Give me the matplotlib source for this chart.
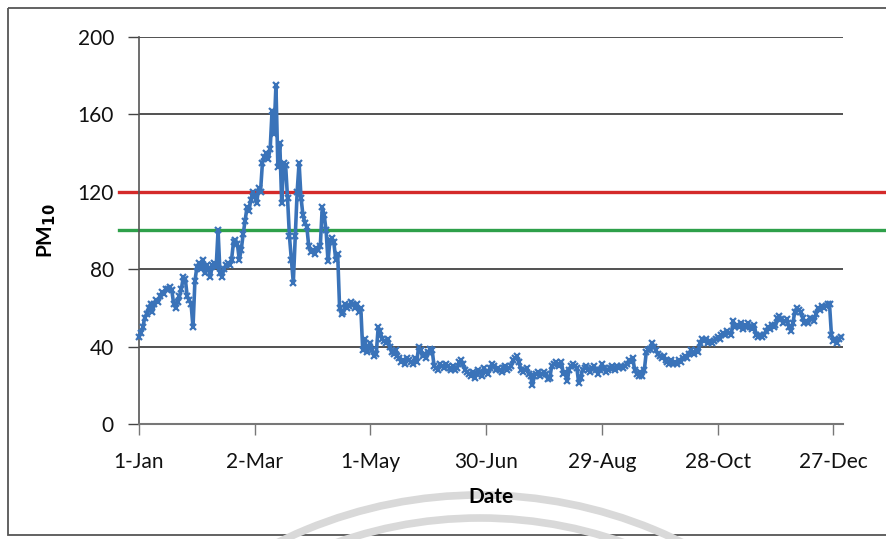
import matplotlib
matplotlib.use("Agg")
import matplotlib.pyplot as plt
from matplotlib.patches import Rectangle, Arc

# Daily PM10 values (1-Jan .. 31-Dec)
pm10 = [
    45, 47, 50, 55, 57, 60, 62, 58, 62, 64,
    63, 66, 68, 67, 70, 70, 71, 69, 62, 60,
    63, 66, 70, 76, 75, 66, 64, 62, 50, 74,
    81, 83, 80, 85, 78, 82, 80, 76, 82, 83,
    81, 100, 78, 76, 80, 82, 83, 82, 85, 94,
    95, 93, 85, 90, 98, 105, 112, 110, 116, 120,
    118, 114, 122, 120, 135, 138, 140, 137, 142, 162,
    150, 175, 133, 145, 114, 135, 134, 117, 97, 85,
    73, 97, 120, 135, 117, 108, 104, 102, 92, 89,
    90, 88, 91, 90, 92, 112, 108, 100, 84, 95,
    96, 94, 85, 88, 60, 57, 58, 62, 60, 61,
    63, 62, 60, 62, 58, 60, 38, 44, 37, 40,
    42, 38, 35, 36, 50, 48, 44, 43, 42, 44,
    40, 37, 36, 38, 35, 34, 32, 33, 31, 34,
    33, 32, 31, 34, 32, 40, 38, 35, 36, 34,
    37, 39, 38, 30, 29, 28, 31, 30, 29, 31,
    30, 29, 28, 30, 28, 29, 32, 33, 31, 28,
    27, 26, 25, 27, 24, 26, 28, 27, 25, 29,
    27, 26, 29, 31, 30, 28, 29, 28, 27, 29,
    30, 28, 29, 30, 33, 34, 35, 32, 28, 27,
    28, 29, 26, 25, 20, 25, 26, 27, 25, 26,
    27, 26, 23, 24, 30, 31, 32, 31, 30, 32,
    26, 27, 22, 28, 30, 31, 30, 29, 21, 24,
    28, 29, 30, 28, 27, 29, 30, 28, 26, 28,
    31, 29, 27, 28, 29, 30, 29, 28, 30, 29,
    30, 29, 30, 31, 33, 32, 34, 28, 26, 25,
    27, 25, 28, 37, 38, 39, 42, 40, 38, 36,
    35, 34, 35, 33, 32, 31, 33, 31, 32, 31,
    33, 32, 34, 35, 34, 36, 38, 37, 36, 38,
    37, 42, 44, 43, 44, 42, 43, 42, 43, 44,
    45, 44, 46, 47, 46, 48, 47, 46, 53, 50,
    51, 50, 52, 49, 51, 50, 52, 50, 49, 51,
    46, 45, 46, 45, 46, 48, 50, 49, 51, 50,
    51, 55, 56, 54, 52, 53, 54, 50, 48, 52,
    58, 60, 59, 58, 55, 52, 53, 52, 55, 54,
    53, 57, 60, 59, 61, 60, 61, 62, 62, 46,
    43, 44, 42, 44, 45,
]
days = list(range(len(pm10)))

tick_days = [0, 60, 120, 180, 240, 300, 360]
tick_labels = ["1-Jan", "2-Mar", "1-May", "30-Jun", "29-Aug", "28-Oct", "27-Dec"]
y_ticks = [0, 40, 80, 120, 160, 200]

limit_red = 120
limit_green = 100

plt.rcParams['font.family'] = ['Lato', 'DejaVu Sans']

fig = plt.figure(figsize=(8.87, 5.39), dpi=100)
fig.patch.set_facecolor('white')

# background overlay in pixel coordinates (frame + faint scan watermark arcs)
bg = fig.add_axes([0, 0, 1, 1], zorder=-5)
bg.set_xlim(0, 887)
bg.set_ylim(539, 0)
bg.axis('off')
bg.add_patch(Rectangle((8, 8), 890, 527, fill=False, edgecolor='#555555',
                       linewidth=1.3))
for r in [454, 431]:
    bg.add_patch(Arc((480, 949), 2 * r, 2 * r, theta1=0, theta2=360,
                     edgecolor='#d9d9d9', linewidth=5.5))

ax = fig.add_axes([0.1567, 0.2134, 0.7937, 0.718])
ax.set_xlim(0, 365)
ax.set_ylim(0, 200)
ax.patch.set_alpha(0)

for yv in [40, 80, 160, 200]:
    ax.axhline(yv, color='#333333', linewidth=1.2, zorder=1)

ax.axhline(limit_red, xmin=-0.028, xmax=1.07, color='#d42a2a', linewidth=2.4,
           clip_on=False, zorder=2)
ax.axhline(limit_green, xmin=-0.028, xmax=1.07, color='#2ea04a', linewidth=2.4,
           clip_on=False, zorder=2)

ax.plot(days, pm10, color='#3a73b9', linewidth=2.6, marker='x', markersize=5,
        markeredgewidth=1.6, zorder=3, clip_on=False)

for s in ['top', 'right']:
    ax.spines[s].set_visible(False)
ax.spines['left'].set_color('#555555')
ax.spines['bottom'].set_color('#777777')
ax.spines['left'].set_linewidth(1.2)
ax.spines['bottom'].set_linewidth(1.5)

ax.set_xticks(tick_days)
ax.set_xticklabels(tick_labels)
ax.set_yticks(y_ticks)
ax.tick_params(axis='both', labelsize=15, length=8, width=1.0, direction='out')
ax.tick_params(axis='x', pad=12, colors='#777777', labelcolor='#111111')
ax.tick_params(axis='y', pad=10, colors='#444444', labelcolor='#111111')

ax.set_xlabel('Date', fontsize=15, fontweight='bold', labelpad=11)
ax.set_ylabel('PM$_{\\mathbf{10}}$', fontsize=15, fontweight='bold', labelpad=14)

fig.savefig('out.png', dpi=100)
